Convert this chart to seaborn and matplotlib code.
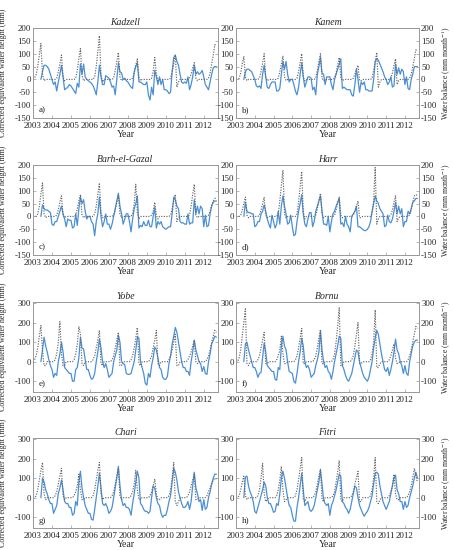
import numpy as np
import matplotlib
matplotlib.use("Agg")
import matplotlib.pyplot as plt
import seaborn as sns

sns.set_style("ticks")
plt.rcParams['font.family'] = ['Liberation Serif', 'DejaVu Serif']
plt.rcParams['mathtext.fontset'] = 'stix'
plt.rcParams['axes.unicode_minus'] = False

# ---------------- data (monthly) ----------------
# GRACE corrected equivalent water height: Jun 2003 .. Sep 2012
# Water balance: Jan 2003 .. Sep 2012
years = [2003, 2004, 2005, 2006, 2007, 2008, 2009, 2010, 2011, 2012]
names = ["Kadzell", "Kanem", "Barh-el-Gazal", "Harr", "Yobe", "Bornu", "Chari", "Fitri"]
letters = ["a)", "b)", "c)", "d)", "e)", "f)", "g)", "h)"]

kadzell_grace = [0, 30, 55, 55, 50, 40, 20,
    0, -20, -10, -45, -10, 20, 55, 10, -40, -35, -30, -20,
    -25, -35, -45, -55, -15, -30, 60, 20, 60, 10, 0, -5,
    -10, -15, -25, -40, -60, -10, 55, 10, -20, -20, 15, 10,
    5, -10, -30, -25, -60, 0, 65, 30, 25, 0, 5, -5,
    -10, -20, -30, -35, 30, 50, 65, -10, -10, -15, -20, -20,
    -10, -60, -80, -30, -60, 35, 10, -20, 10, -20, 0, -40,
    -40, -45, -55, -50, 30, 85, 95, 70, 55, 20, -10, -15,
    -10, -15, 10, -40, -20, 10, 55, 20, 30, 20, 25, 35,
    10, -20, -30, -40, -10, 20, 45, 50, 50]
kadzell_wb = [0, 5, 20, 50, 95, 140, 20, -5, 0, 0, 0, 0,
    0, 0, 0, 5, 30, 60, 95, 10, -5, 0, 0, 0,
    0, 0, 0, 5, 35, 80, 120, 15, -5, 0, 0, 0,
    0, 0, 0, 10, 50, 110, 170, 20, -10, 0, 0, 0,
    0, 0, 0, 5, 35, 70, 105, 10, -5, 0, 0, 0,
    0, 0, 0, 5, 25, 55, 80, 10, -5, 0, 0, 0,
    0, 0, 0, 5, 30, 85, 20, -5, 0, 0, 0, 0,
    0, 0, 0, 5, 30, 60, 95, -30, -10, 0, 0, 0,
    0, 0, 0, 5, 20, 45, 65, 5, -5, 0, 0, 0,
    0, 0, 0, 5, 25, 60, 95, 135, 130]

kanem_grace = [0, 30, 40, 40, 35, 30, 15,
    0, -25, -30, -25, -35, 20, 55, 10, -30, -35, -20, -10,
    -10, -10, -45, -45, -35, 20, 70, 40, 70, 20, -10, 0,
    0, -20, -45, -60, -30, 20, 65, 10, -30, -10, 10, 10,
    5, -40, -30, -60, 20, 50, 85, 25, 20, -20, 10, 10,
    10, -20, -40, 0, 20, 40, 60, 80, -35, -30, -35, -40,
    -40, -40, -60, -65, -20, 40, 0, -50, -10, -20, -10, -40,
    -40, -45, -45, -45, 0, 70, 80, 75, 60, 45, 30, 10,
    0, -20, -10, 10, -30, -25, 60, 20, 45, 20, 40, 30,
    -20, 10, -35, -40, 0, 20, 50, 50, 50]
kanem_wb = [0, 0, 5, 25, 60, 90, 10, -5, 0, 0, 0, 0,
    0, 0, 0, 5, 30, 65, 100, 10, -5, 0, 0, 0,
    0, 0, 0, 5, 30, 60, 90, 10, -5, 0, 0, 0,
    0, 0, 0, 5, 30, 65, 100, 10, -5, 0, 0, 0,
    0, 0, 0, 5, 35, 70, 100, 5, -5, 0, 0, 0,
    0, 0, 0, 5, 25, 55, 85, 5, -5, 0, 0, 0,
    0, 0, 0, 5, 20, 40, 55, -5, -5, 0, 0, 0,
    0, 0, 0, 5, 35, 70, 105, -30, -10, 0, 0, 0,
    0, 0, 0, 5, 25, 55, 80, -20, -5, 0, 0, 0,
    0, 0, 0, 5, 20, 50, 80, 115, 110]

barh_grace = [0, 45, 30, 25, 25, 20, 15,
    -30, -35, -20, -20, 0, 20, 40, 10, -10, -40, -10, -15,
    -15, -45, -40, 10, -35, 30, 75, 50, 65, 20, -10, 0,
    0, -20, -30, -75, -20, 10, 75, 0, -40, -20, 10, -30,
    -30, -50, -30, 0, 30, 60, 90, 40, 10, -30, -10, 10,
    10, -20, -60, -10, 30, 50, 80, -45, -35, -40, -20, -35,
    -35, -15, -40, -40, 0, 35, -45, -20, -30, -20, -40, -45,
    -50, -45, -40, -40, 10, 75, 65, 40, 30, -20, -25, -25,
    -30, -30, 10, -30, -25, -25, 65, 10, 40, 10, 40, 30,
    -40, 5, -40, -35, 10, 40, 55, 60, 60]
barh_wb = [0, 0, 0, 10, 40, 85, 130, 10, -5, 0, 0, 0,
    0, 0, 0, 5, 25, 55, 80, 5, -5, 0, 0, 0,
    0, 0, 0, 5, 30, 60, 85, 5, -5, 0, 0, 0,
    0, 0, 0, 10, 40, 85, 130, 15, -5, 0, 0, 0,
    0, 0, 0, 5, 25, 55, 80, 10, -5, 0, 0, 0,
    0, 0, 0, 10, 50, 125, 15, -10, 0, 0, 0, 0,
    0, 0, 0, 5, 20, 55, 5, -10, 0, 0, 0, 0,
    0, 0, 0, 5, 30, 60, 85, -20, -5, 0, 0, 0,
    0, 0, 0, 5, 40, 85, 125, 5, -5, 0, 0, 0,
    0, 0, 0, 5, 20, 45, 60, 70, 75]

harr_grace = [0, 55, 20, 15, 15, 10, 10,
    -40, -35, -20, -20, 10, 20, 45, 20, -10, -30, -45, 5,
    -20, -45, -30, 20, -30, 40, 80, 40, 10, -30, -25, 5,
    -40, -75, -70, -20, 20, 50, 85, 10, -30, -40, -10, 15,
    15, -40, -20, 20, 40, 60, 80, 20, -30, -30, -35, 0,
    -60, -20, 10, 20, 40, 55, 70, -30, -25, -40, 0, -30,
    -40, -60, 0, 10, 20, 40, -40, -40, -45, -50, -55, -55,
    -50, -40, -20, 20, 50, 80, 60, 50, 30, 20, 10, -40,
    -35, 5, -20, -25, -10, 20, 55, 10, 40, 10, 30, -40,
    -20, -20, 20, 10, 30, 55, 60, 70, 70]
harr_wb = [0, 0, 0, 5, 25, 50, 75, 5, -5, 0, 0, 0,
    0, 0, 0, 5, 25, 50, 75, 5, -5, 0, 0, 0,
    0, 0, 0, 10, 60, 120, 180, 10, -5, 0, 0, 0,
    0, 0, 0, 10, 55, 115, 175, 20, -10, 0, 0, 0,
    0, 0, 0, 5, 30, 60, 90, 10, -5, 0, 0, 0,
    0, 0, 0, 5, 25, 50, 75, 5, -5, 0, 0, 0,
    0, 0, 0, 5, 20, 40, 60, -5, -5, 0, 0, 0,
    0, 0, 0, 10, 60, 190, -30, -10, 0, 0, 0, 0,
    0, 0, 0, 5, 25, 55, 80, -20, -5, 0, 0, 0,
    0, 0, 0, 5, 25, 55, 80, 85, 80]

yobe_grace = [0, 60, 125, 80, 50, 10, -20,
    -40, -80, -60, -70, 0, 40, 100, 50, -30, -40, -50, -60,
    -60, -100, -100, -40, -30, 20, 125, 70, 65, 10, -40, -40,
    -70, -90, -85, -60, 0, 50, 115, 70, 0, -30, -10, -40,
    -80, -70, -60, 0, 30, 60, 135, 100, 0, -10, -15, -60,
    -65, -65, -60, -30, 0, 60, 125, 120, 0, -30, -60, -110,
    -120, -60, -80, -20, 20, 75, 60, 20, -30, -40, -80, -90,
    -90, -75, -10, 30, 90, 130, 175, 150, 100, 50, 0, -30,
    -30, -50, -50, -70, 0, 50, 110, 60, 30, 0, -10, -50,
    -25, -60, -65, 0, 40, 90, 110, 130, 125]
yobe_wb = [0, 10, 30, 70, 130, 185, 60, -20, -20, 0, 0, 0,
    0, 0, 10, 40, 100, 205, 40, -20, -20, 0, 0, 0,
    0, 0, 10, 40, 90, 180, 140, -10, -20, 0, 0, 0,
    0, 0, 10, 30, 70, 110, 160, -10, -20, 0, 0, 0,
    0, 0, 10, 30, 70, 110, 150, -20, -20, 0, 0, 0,
    0, 0, 10, 30, 70, 120, 175, -10, -20, 0, 0, 0,
    0, 0, 10, 30, 70, 110, 160, -10, -20, 0, 0, 0,
    0, 0, 10, 30, 60, 100, 140, -20, -20, 0, 0, 0,
    0, 0, 10, 30, 50, 80, 110, 0, -10, 0, 0, 0,
    0, 0, 10, 30, 60, 100, 130, 160, 150]

bornu_grace = [0, 90, 100, 60, 30, 0, -30,
    -30, -50, -80, -60, -55, 20, 95, 50, -20, -30, -40, -50,
    -50, -90, -95, -30, -40, 80, 130, 80, 60, 0, -50, -55,
    -60, -100, -110, -60, 0, 50, 120, 80, 0, -30, -20, -40,
    -80, -70, -60, -20, 10, 50, 155, 60, 0, -30, -20, -50,
    -60, -90, -50, 0, 40, 80, 130, 120, -20, -40, -70, -90,
    -100, -80, -60, -20, 20, 60, 50, 0, -30, -60, -80, -90,
    -100, -80, -40, 0, 70, 120, 160, 140, 90, 40, 0, -40,
    -50, -30, -70, -40, 0, 50, 115, 60, 40, 0, -20, -60,
    -20, -60, -70, 0, 40, 80, 100, 110, 110]
bornu_wb = [0, 0, 20, 60, 130, 200, 270, -10, -20, 0, 0, 0,
    0, 0, 10, 30, 70, 110, 150, -10, -10, 0, 0, 0,
    0, 0, 10, 30, 60, 130, 40, -10, -10, 0, 0, 0,
    0, 0, 10, 30, 70, 120, 170, -10, -10, 0, 0, 0,
    0, 0, 10, 30, 70, 120, 165, -10, -10, 0, 0, 0,
    0, 0, 10, 40, 100, 180, 275, -20, -20, 0, 0, 0,
    0, 0, 10, 30, 80, 140, 200, -10, -10, 0, 0, 0,
    0, 0, 10, 40, 100, 265, -30, -30, -10, 0, 0, 0,
    0, 0, 10, 30, 60, 90, 20, -10, -5, 0, 0, 0,
    0, 0, 10, 30, 60, 100, 140, 180, 170]

chari_grace = [0, 100, 80, 40, 20, -10, -30,
    -30, -80, -60, -40, 20, 50, 90, 40, -20, -30, -30, -50,
    -50, -90, -80, -20, -40, 80, 135, 50, 0, -40, -60, -80,
    -80, -110, -115, -60, 0, 60, 125, 50, -30, -40, -30, -50,
    -80, -70, -50, 0, 50, 100, 160, 60, -10, -40, -30, -50,
    -50, -60, -90, -30, 20, 80, 135, 100, -30, -40, -60, -70,
    -70, -80, -70, 0, 60, 50, 0, -30, -40, -80, -100, -90,
    -90, -60, -20, 10, 80, 150, 130, 90, 30, 0, -30, -50,
    -50, -40, -20, -60, -20, 60, 130, 50, 20, -20, -10, -65,
    -10, -60, -50, 0, 30, 70, 100, 120, 120]
chari_wb = [0, 0, 10, 40, 90, 140, 180, 20, -10, 0, 0, 0,
    0, 0, 10, 30, 70, 110, 150, 10, -10, 0, 0, 0,
    0, 0, 10, 30, 60, 120, 40, -10, -10, 0, 0, 0,
    0, 0, 10, 40, 90, 140, 180, 20, -10, 0, 0, 0,
    0, 0, 10, 30, 70, 110, 150, 10, -10, 0, 0, 0,
    0, 0, 10, 30, 70, 140, 40, -10, -10, 0, 0, 0,
    0, 0, 10, 30, 60, 95, 20, -10, -10, 0, 0, 0,
    0, 0, 10, 40, 100, 180, -20, -40, -20, 0, 0, 0,
    0, 0, 10, 30, 60, 90, 120, -10, -10, 0, 0, 0,
    0, 0, 10, 30, 50, 70, 90, 100, 95]

fitri_grace = [0, 105, 110, 60, 30, 10, -20,
    -70, -80, -50, -20, 10, 40, 80, 60, 0, -30, -30, -50,
    -75, -70, -30, -40, 20, 100, 135, 100, 50, 0, -40, -50,
    -90, -120, -120, -50, 0, 60, 125, 40, -40, -30, -20, -60,
    -70, -60, -40, 0, 40, 80, 140, 70, -10, -30, -40, -30,
    -90, -40, -20, 10, 40, 80, 120, 110, -20, -30, -50, -60,
    -80, -60, -20, 20, 60, 50, 0, -40, -60, -80, -95, -80,
    -70, -50, -20, 10, 70, 125, 130, 120, 60, 20, -20, -40,
    -60, -40, -20, 20, 60, 100, 115, 40, 20, -20, -20, -60,
    -20, -50, -40, 0, 30, 60, 100, 130, 100]
fitri_wb = [0, 0, 10, 40, 80, 110, 10, -10, 0, 0, 0, 0,
    0, 0, 10, 40, 100, 175, 20, -20, -10, 0, 0, 0,
    0, 0, 10, 40, 90, 160, 40, -20, -10, 0, 0, 0,
    0, 0, 10, 40, 90, 150, 205, -10, -20, 0, 0, 0,
    0, 0, 10, 30, 70, 110, 145, -10, -20, 0, 0, 0,
    0, 0, 10, 30, 80, 130, 190, -10, -20, 0, 0, 0,
    0, 0, 10, 30, 70, 100, 135, -20, -20, 0, 0, 0,
    0, 0, 10, 40, 100, 205, -20, -30, -10, 0, 0, 0,
    0, 0, 10, 30, 60, 120, 20, -10, -10, 0, 0, 0,
    0, 0, 10, 30, 60, 100, 150, 110, 80]

grace_series = [kadzell_grace, kanem_grace, barh_grace, harr_grace,
                yobe_grace, bornu_grace, chari_grace, fitri_grace]
wb_series = [kadzell_wb, kanem_wb, barh_wb, harr_wb,
             yobe_wb, bornu_wb, chari_wb, fitri_wb]

ticks_small = [-150, -100, -50, 0, 50, 100, 150, 200]
ticks_large = [-100, 0, 100, 200, 300]

# ---------------- figure ----------------
W, H = 454, 550
fig = plt.figure(figsize=(W / 100, H / 100), dpi=100)

blue = '#4a90d6'
grey = '#666666'
spine_c = '#9a9a9a'
col_left = [33, 236]
col_width = [185, 183]
row_top = [28, 165, 302, 438]
ax_h = 90

for i in range(8):
    row, col = divmod(i, 2)
    g = grace_series[i]
    w = wb_series[i]
    xg = 2003 + (5 + np.arange(len(g))) / 12.0
    xw = 2003 + np.arange(len(w)) / 12.0

    ax = fig.add_axes([col_left[col] / W, 1 - (row_top[row] + ax_h) / H,
                       col_width[col] / W, ax_h / H])
    ax2 = ax.twinx()

    sns.lineplot(x=xg, y=g, ax=ax, color=blue, linewidth=0.9)
    sns.lineplot(x=xw, y=w, ax=ax2, color=grey, linewidth=0.85, linestyle=(0, (1, 1.2)))

    if row < 2:
        lim, tk = (-150, 200), ticks_small
    else:
        lim, tk = (-155, 305), ticks_large
    for a in (ax, ax2):
        a.set_ylim(*lim)
        a.set_yticks(tk)
        a.set_xlim(2003, 2012.75)
        for s in a.spines.values():
            s.set_color(spine_c)
            s.set_linewidth(0.7)
        a.tick_params(axis='y', direction='in', length=2, width=0.5, color=spine_c,
                      labelsize=6.3, pad=1.5, labelcolor='#222222')
        a.tick_params(axis='x', direction='in', length=2, width=0.5, color=spine_c,
                      labelsize=6.5, pad=3, labelcolor='#222222')
    ax.set_xticks(years)
    ax.set_xticklabels([str(y) for y in years])
    ax2.set_ylabel('')
    ax.set_ylabel('')

    if col == 0:
        ax2.tick_params(labelright=False)
        ax.set_ylabel('Corrected equivalent water height (mm)', fontsize=5.8, labelpad=1)
        ax.yaxis.set_label_coords(-0.14, 0.5)
    else:
        ax2.set_ylabel('Water balance (mm month$^{-1}$)', fontsize=5.6)
        ax2.yaxis.set_label_coords(1.115, 0.5)

    ax.set_title(names[i], style='italic', fontsize=7, pad=2)
    ax.set_xlabel('Year', fontsize=7, labelpad=0)
    ax.text(0.03, 0.06, letters[i], transform=ax.transAxes, fontsize=6.5, color='#222222')

fig.savefig('out.png', dpi=100)
